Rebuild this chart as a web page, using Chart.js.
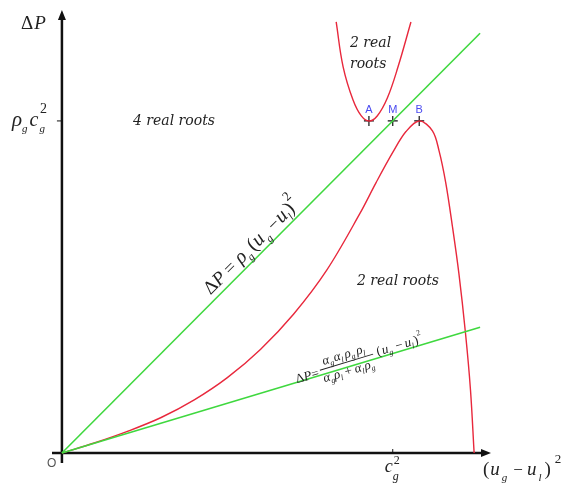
<!DOCTYPE html>
<html>
<head>
<meta charset="UTF-8">
<script src="https://cdn.jsdelivr.net/npm/chart.js"></script>
<style>
  html, body { margin: 0; padding: 0; background: #fff; }
  #wrap { width: 569px; height: 494px; position: relative; }
</style>
</head>
<body>
<div id="wrap"><canvas id="c" width="569" height="494"></canvas></div>
<script>
// x unit = c_g^2, y unit = rho_g c_g^2
const redLowX = [0, 0.1, 0.2, 0.3, 0.4, 0.5, 0.6, 0.7, 0.8, 0.9, 0.95, 1.0, 1.04, 1.08, 1.12, 1.14, 1.16, 1.18, 1.2, 1.22, 1.235, 1.246];
const redLowY = [0, 0.031, 0.066, 0.107, 0.16, 0.227, 0.312, 0.418, 0.55, 0.72, 0.815, 0.905, 0.968, 1.0, 0.97, 0.91, 0.815, 0.685, 0.54, 0.36, 0.19, 0];

const redUpX = [0.829, 0.850, 0.880, 0.905, 0.928, 0.953, 0.984, 1.016, 1.055];
const redUpY = [1.298, 1.163, 1.063, 1.015, 1.0, 1.015, 1.07, 1.163, 1.298];

const greenHiX = [0, 1.264];
const greenHiY = [0, 1.264];
const greenLoX = [0, 1.264];
const greenLoY = [0, 0.379];

const markLabels = ['A', 'M', 'B'];
const markX = [0.928, 1.0, 1.08];
const markY = [1.0, 1.0, 1.0];

const xTicks = [1];
const yTicks = [1];

const RED = '#e8283c';
const GREEN = '#3fd83f';
const SERIF = '"Liberation Serif", "DejaVu Serif", serif';

function pts(xs, ys) { return xs.map((x, i) => ({ x: x, y: ys[i] })); }

function rich(ctx, x, y, parts) {
  parts.forEach(p => {
    ctx.font = (p.i ? 'italic ' : '') + p.s + 'px ' + SERIF;
    ctx.fillText(p.t, x, y + (p.dy || 0));
    x += ctx.measureText(p.t).width + (p.g || 0);
  });
  return x;
}

const decor = {
  id: 'decor',
  beforeDatasetsDraw(chart) {
    const ctx = chart.ctx;
    const xs = chart.scales.x, ys = chart.scales.y;
    const x0 = xs.getPixelForValue(0), y0 = ys.getPixelForValue(0);
    const xr = xs.getPixelForValue(xs.max), yt = ys.getPixelForValue(ys.max);
    const xl = xs.getPixelForValue(xs.min), yb = ys.getPixelForValue(ys.min);
    ctx.save();
    ctx.strokeStyle = '#111';
    ctx.fillStyle = '#111';
    ctx.lineWidth = 2.5;
    ctx.beginPath();
    ctx.moveTo(xl, y0); ctx.lineTo(xr - 6, y0);
    ctx.moveTo(x0, yb); ctx.lineTo(x0, yt + 6);
    ctx.stroke();
    // arrow heads
    ctx.beginPath();
    ctx.moveTo(xr, y0); ctx.lineTo(xr - 10, y0 - 4); ctx.lineTo(xr - 10, y0 + 4); ctx.closePath();
    ctx.moveTo(x0, yt); ctx.lineTo(x0 - 4, yt + 10); ctx.lineTo(x0 + 4, yt + 10); ctx.closePath();
    ctx.fill();
    // ticks
    ctx.lineWidth = 1;
    ctx.beginPath();
    xTicks.forEach(v => { const p = xs.getPixelForValue(v); ctx.moveTo(p, y0 - 4); ctx.lineTo(p, y0); });
    yTicks.forEach(v => { const p = ys.getPixelForValue(v); ctx.moveTo(x0 - 5, p); ctx.lineTo(x0, p); });
    ctx.stroke();
    ctx.restore();
  },
  afterDatasetsDraw(chart) {
    const ctx = chart.ctx;
    const xs = chart.scales.x, ys = chart.scales.y;
    const X = v => xs.getPixelForValue(v), Y = v => ys.getPixelForValue(v);
    const x0 = X(0), y0 = Y(0);
    ctx.save();
    ctx.fillStyle = '#222';
    ctx.textBaseline = 'alphabetic';
    ctx.textAlign = 'left';

    // axis titles
    rich(ctx, 21, 29, [{ t: '\u0394', s: 19, g: 1 }, { t: 'P', s: 19, i: 1 }]);
    rich(ctx, X(xs.max) - 8, y0 + 22, [
      { t: '(', s: 19, g: 1 }, { t: 'u', s: 19, i: 1, g: 2 }, { t: 'g', s: 11, i: 1, dy: 6, g: 6 },
      { t: '\u2212', s: 17, g: 4 }, { t: 'u', s: 19, i: 1, g: 2 }, { t: 'l', s: 11, i: 1, dy: 6, g: 3 },
      { t: ')', s: 19, g: 4 }, { t: '2', s: 13, dy: -12 }
    ]);
    // tick labels
    rich(ctx, 12, Y(1) + 5, [
      { t: '\u03c1', s: 21, i: 1 }, { t: 'g', s: 11, i: 1, dy: 6, g: 2 },
      { t: 'c', s: 20, i: 1, g: 1 }, { t: 'g', s: 11, i: 1, dy: 6 }
    ]);
    rich(ctx, 40, Y(1) - 8, [{ t: '2', s: 14 }]);
    rich(ctx, X(1) - 8, y0 + 19, [{ t: 'c', s: 18, i: 1 }]);
    rich(ctx, X(1) + 1, y0 + 11, [{ t: '2', s: 12 }]);
    rich(ctx, X(1), y0 + 27, [{ t: 'g', s: 12, i: 1 }]);

    ctx.font = '12px "Liberation Sans", Arial, sans-serif';
    ctx.fillStyle = '#555';
    ctx.fillText('O', x0 - 15, y0 + 14);

    // region notes
    ctx.fillStyle = '#222';
    ctx.font = 'italic 14px "DejaVu Serif", serif';
    ctx.fillText('4 real roots', 133, 125);
    ctx.fillText('2 real', 350, 47);
    ctx.fillText('roots', 350, 68);
    ctx.fillText('2 real roots', 357, 285);

    // point labels
    ctx.font = '11px "Liberation Sans", Arial, sans-serif';
    ctx.fillStyle = '#4a4af0';
    ctx.textAlign = 'center';
    markLabels.forEach((l, i) => ctx.fillText(l, X(markX[i]), Y(markY[i]) - 8));

    // label along upper green line
    ctx.fillStyle = '#222';
    ctx.textAlign = 'left';
    let a = Math.atan2(Y(greenHiY[1]) - y0, X(greenHiX[1]) - x0);
    ctx.save();
    ctx.translate(X(0.462), Y(0.462));
    ctx.rotate(a);
    rich(ctx, 0, -6, [
      { t: '\u0394', s: 19 }, { t: 'P', s: 19, i: 1, g: 4 }, { t: '=', s: 19, g: 5 },
      { t: '\u03c1', s: 20, i: 1 }, { t: 'g', s: 11, i: 1, dy: 5, g: 3 },
      { t: '(', s: 20 }, { t: 'u', s: 20, i: 1, g: 1 }, { t: 'g', s: 11, i: 1, dy: 5, g: 5 },
      { t: '\u2212', s: 18, g: 1 }, { t: 'u', s: 20, i: 1 }, { t: 'l', s: 11, i: 1, dy: 5 },
      { t: ')', s: 20 }, { t: '2', s: 13, dy: -12 }
    ]);
    ctx.restore();

    // label along lower green line
    a = Math.atan2(Y(greenLoY[1]) - y0, X(greenLoX[1]) - x0);
    ctx.save();
    ctx.translate(X(0.71), Y(0.71 * greenLoY[1] / greenLoX[1]));
    ctx.rotate(a);
    let u = rich(ctx, 0, 1, [{ t: '\u0394', s: 13 }, { t: 'P', s: 13, i: 1 }, { t: '=', s: 13, g: 2 }]);
    const num = [
      { t: '\u03b1', s: 13, i: 1 }, { t: 'g', s: 8, i: 1, dy: 3, g: 1 }, { t: '\u03b1', s: 13, i: 1 }, { t: 'l', s: 8, i: 1, dy: 3, g: 2 },
      { t: '\u03c1', s: 13, i: 1 }, { t: 'g', s: 8, i: 1, dy: 3, g: 2 }, { t: '\u03c1', s: 13, i: 1 }, { t: 'l', s: 8, i: 1, dy: 3 }
    ];
    const nEnd = rich(ctx, u + 5, -9, num);
    ctx.strokeStyle = '#222';
    ctx.lineWidth = 1;
    ctx.beginPath(); ctx.moveTo(u, -5); ctx.lineTo(nEnd + 7, -5); ctx.stroke();
    rich(ctx, u + 1, 8, [
      { t: '\u03b1', s: 13, i: 1 }, { t: 'g', s: 8, i: 1, dy: 3 }, { t: '\u03c1', s: 13, i: 1 }, { t: 'l', s: 8, i: 1, dy: 3, g: 3 },
      { t: '+', s: 13, g: 3 }, { t: '\u03b1', s: 13, i: 1 }, { t: 'l', s: 8, i: 1, dy: 3, g: 1 },
      { t: '\u03c1', s: 13, i: 1 }, { t: 'g', s: 8, i: 1, dy: 3 }
    ]);
    rich(ctx, nEnd + 11, -2, [
      { t: '(', s: 13, g: 1 }, { t: 'u', s: 13, i: 1 }, { t: 'g', s: 8, i: 1, dy: 3, g: 4 },
      { t: '\u2212', s: 13, g: 2 }, { t: 'u', s: 13, i: 1 }, { t: 'l', s: 8, i: 1, dy: 3, g: 1 },
      { t: ')', s: 13 }, { t: '2', s: 8, dy: -8 }
    ]);
    ctx.restore();

    ctx.restore();
  }
};

new Chart(document.getElementById('c'), {
  type: 'scatter',
  data: {
    datasets: [
      { data: pts(greenHiX, greenHiY), showLine: true, borderColor: GREEN, borderWidth: 1.6, pointRadius: 0 },
      { data: pts(greenLoX, greenLoY), showLine: true, borderColor: GREEN, borderWidth: 1.6, pointRadius: 0 },
      { data: pts(redLowX, redLowY), showLine: true, borderColor: RED, borderWidth: 1.4, pointRadius: 0, tension: 0.35 },
      { data: pts(redUpX, redUpY), showLine: true, borderColor: RED, borderWidth: 1.4, pointRadius: 0, tension: 0.4 },
      { data: pts(markX, markY), showLine: false, pointStyle: 'cross', pointRadius: 5, borderColor: '#111', borderWidth: 1.2 }
    ]
  },
  options: {
    responsive: false,
    animation: false,
    events: [],
    layout: { padding: { left: 52, right: 78, top: 10, bottom: 31 } },
    plugins: { legend: { display: false }, tooltip: { enabled: false } },
    scales: {
      x: { type: 'linear', min: -0.03, max: 1.297, display: false },
      y: { type: 'linear', min: -0.03, max: 1.334, display: false }
    }
  },
  plugins: [decor]
});
</script>
</body>
</html>
